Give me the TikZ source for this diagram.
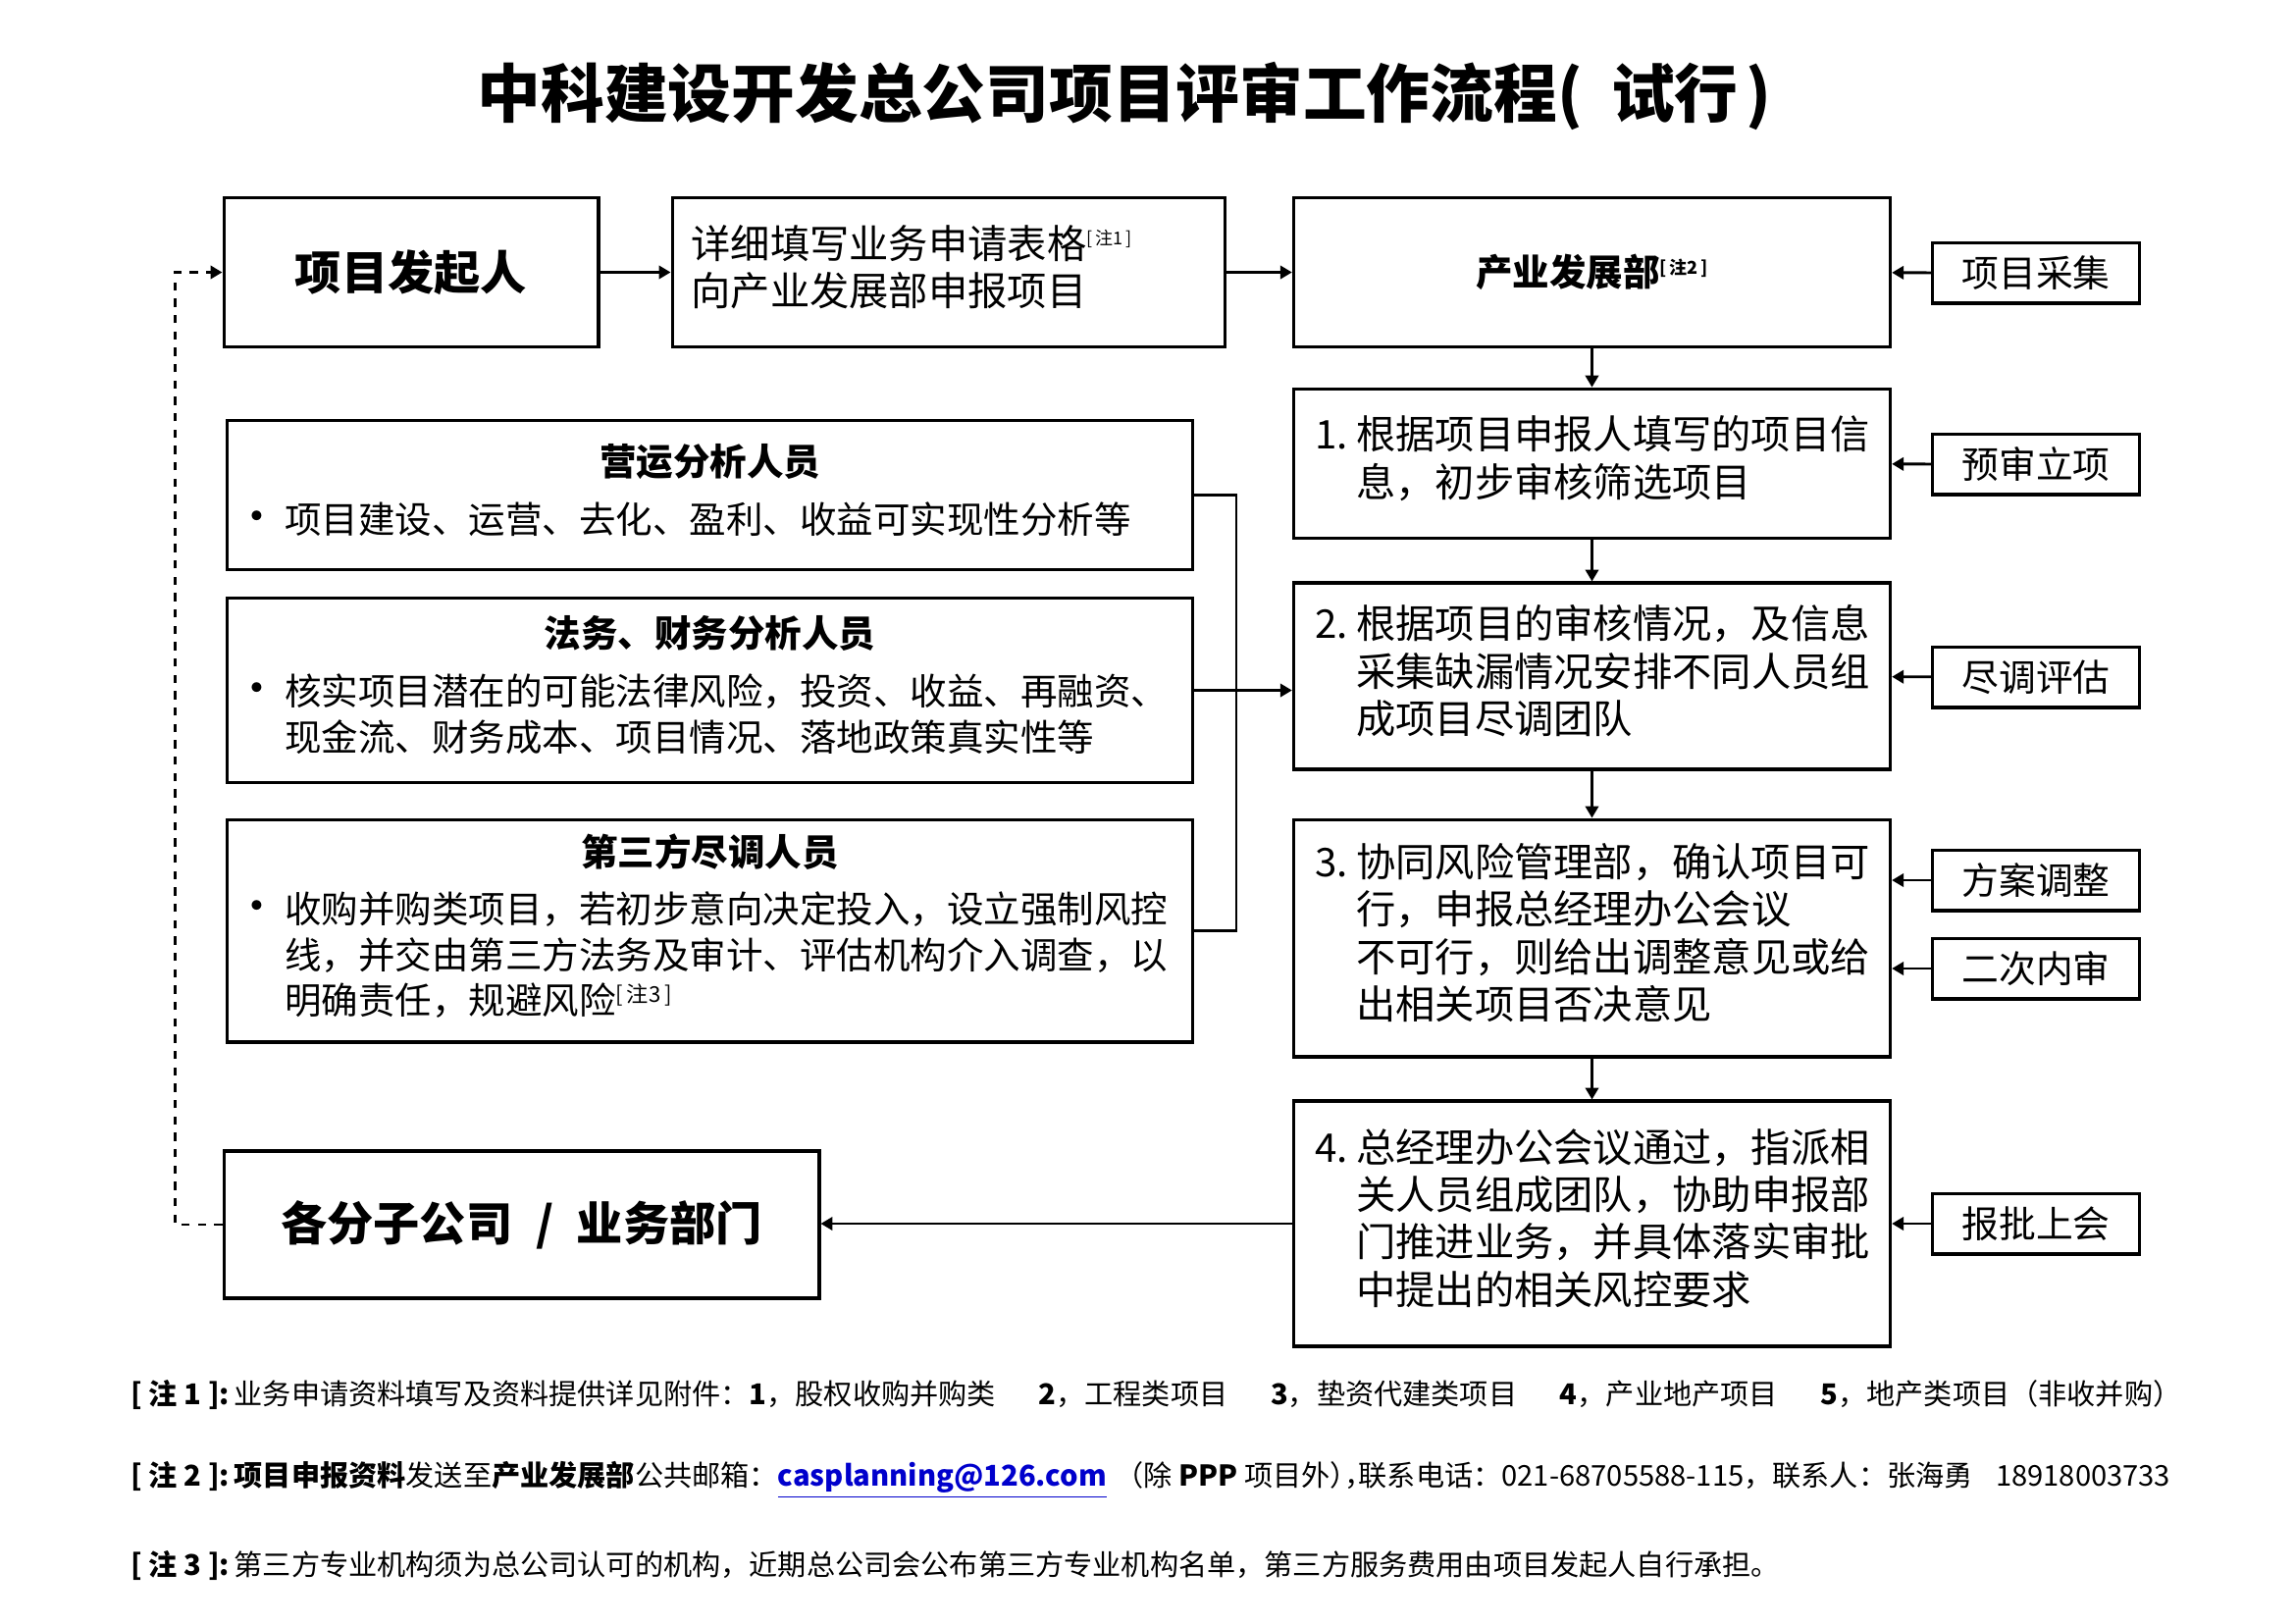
\documentclass[tikz,border=0pt]{standalone}
\usepackage{fontspec}
\newfontfamily\cjk{Noto Sans CJK SC}
\usetikzlibrary{arrows.meta}
\definecolor{emailblue}{RGB}{0,0,204}
\tikzset{>={Triangle[length=4.3pt,width=4.8pt]}}
\newcommand{\noteref}[2][6.5]{\raisebox{0.6ex}{\fontsize{#1}{#1}\selectfont[\,#2\,]}}
\newcommand{\dotmark}{\hspace*{-6.5pt}\scalebox{1.25}{\textbullet}}
\newcommand{\halfp}[1]{{\addfontfeature{RawFeature=+halt}#1}}

\begin{document}
\begin{tikzpicture}[x=0.36pt, y=-0.36pt, line width=1pt,
  box/.style={draw, line width=1.1pt, inner sep=0pt},
  mainbox/.style={box, font=\cjk\bfseries\fontsize{17}{20}\selectfont},
  formbox/.style={box, font=\cjk\fontsize{14.5}{17.3}\selectfont},
  deptbox/.style={box, font=\cjk\bfseries\fontsize{13.5}{16}\selectfont},
  rbox/.style={box, minimum width=219pt, align=center, font=\cjk\fontsize{14.5}{17.3}\selectfont},
  pbox/.style={box, minimum width=354pt, align=center, font=\cjk\fontsize{13.5}{16.7}\selectfont},
  tag/.style={box, minimum width=76pt, minimum height=22.3pt, font=\cjk\fontsize{13.6}{16}\selectfont},
  note/.style={anchor=west, inner sep=0pt, font=\cjk\fontsize{10.5}{12}\selectfont}]

\useasboundingbox (0,0) rectangle (2339,1654);

\node[font=\cjk\bfseries\fontsize{23.3}{26}\selectfont] (title) at (1146,97.5)
  {中科建设开发总公司项目评审工作流程(\hspace{0.45em}试行\hspace{0.12em})};

% top row
\node[mainbox, minimum width=137.5pt, minimum height=55pt] (start) at (419,277.5) {项目发起人};
\node[formbox, minimum width=203pt, minimum height=55pt] (form) at (967,277.5)
  {\begin{tabular}{@{}p{189pt}@{}}详细填写业务申请表格\noteref{注1}\\向产业发展部申报项目\end{tabular}};
\node[deptbox, minimum width=219pt, minimum height=55pt] (dept) at (1622.5,277.5) {产业发展部\noteref{注2}};

% review steps
\node[rbox, minimum height=55pt] (s1) at (1622.5,472.5)
  {\begin{tabular}{@{}p{15pt}@{}p{188pt}@{}}1. & 根据项目申报人填写的项目信\\ & 息，初步审核筛选项目\end{tabular}};
\node[rbox, minimum height=68.4pt] (s2) at (1622.5,689)
  {\begin{tabular}{@{}p{15pt}@{}p{188pt}@{}}2. & 根据项目的审核情况，及信息\\ & 采集缺漏情况安排不同人员组\\ & 成项目尽调团队\end{tabular}};
\node[rbox, minimum height=87.1pt] (s3) at (1622.5,956)
  {\begin{tabular}{@{}p{15pt}@{}p{188pt}@{}}3. & 协同风险管理部，确认项目可\\ & 行，申报总经理办公会议\\ & 不可行，则给出调整意见或给\\ & 出相关项目否决意见\end{tabular}};
\node[rbox, minimum height=90pt] (s4) at (1622.5,1247)
  {\begin{tabular}{@{}p{15pt}@{}p{188pt}@{}}4. & 总经理办公会议通过，指派相\\ & 关人员组成团队，协助申报部\\ & 门推进业务，并具体落实审批\\ & 中提出的相关风控要求\end{tabular}};

% side tags
\node[tag] (collect) at (2075,278) {项目采集};
\node[tag] (prerev) at (2075,473) {预审立项};
\node[tag] (dd) at (2075,690) {尽调评估};
\node[tag] (adjust) at (2075,897) {方案调整};
\node[tag] (second) at (2075,987) {二次内审};
\node[tag] (report) at (2075,1247) {报批上会};

% staff boxes
\node[pbox, minimum height=54.4pt] (ops) at (723.5,504.5)
  {\textbf{营运分析人员}\\[4.5pt]\begin{tabular}[t]{@{}p{12pt}@{}p{324pt}@{}}\dotmark & 项目建设、运营、去化、盈利、收益可实现性分析等\end{tabular}};
\node[pbox, minimum height=68pt] (legal) at (723.5,703.5)
  {\textbf{法务、财务分析人员}\\[4.5pt]\begin{tabular}[t]{@{}p{12pt}@{}p{324pt}@{}}\dotmark & 核实项目潜在的可能法律风险，投资、收益、再融资、\\ & 现金流、财务成本、项目情况、落地政策真实性等\end{tabular}};
\node[pbox, minimum height=81.7pt] (third) at (723.5,948.5)
  {\textbf{第三方尽调人员}\\[4.5pt]\begin{tabular}[t]{@{}p{12pt}@{}p{324pt}@{}}\dotmark & 收购并购类项目，若初步意向决定投入，设立强制风控\\ & 线，并交由第三方法务及审计、评估机构介入调查，以\\ & 明确责任，规避风险\noteref[8]{注3}\end{tabular}};

\node[mainbox, minimum width=218.5pt, minimum height=54pt] (unit) at (531.5,1248) {各分子公司\hspace{0.5em}/\hspace{0.5em}业务部门};

% connectors
\draw[->] (start) -- (form);
\draw[->] (form) -- (dept);
\draw[->] (collect) -- (dept);
\draw[->] (dept) -- (s1);
\draw[->] (prerev) -- (s1);
\draw[->] (s1) -- (s2);
\draw[->] (dd) -- (s2);
\draw[->] (s2) -- (s3);
\draw[->] (adjust) -- (adjust -| s3.east);
\draw[->] (second) -- (second -| s3.east);
\draw[->] (s3) -- (s4);
\draw[->] (report) -- (s4);
\draw[->] (s4.west) -- (s4.west -| unit.east);
\draw[->, dashed] (unit.west) -- ++(-48,0) |- (start.west);

\coordinate (bus) at (1260,703.5);
\draw (ops.east) -| (bus) |- (third.east);
\draw[->] (legal.east) -- (legal.east -| s2.west);

% notes
\node[note] (n1) at (132,1421) {\textbf{[ 注 1 ]:}\,业务申请资料填写及资料提供详见附件：\textbf{1}，股权收购并购类\hspace{1.5em}\textbf{2}，工程类项目\hspace{1.5em}\textbf{3}，垫资代建类项目\hspace{1.5em}\textbf{4}，产业地产项目\hspace{1.5em}\textbf{5}，地产类项目（非收并购）};
\node[note] (n2) at (132,1508) {\textbf{[ 注 2 ]:}\,\textbf{项目申报资料}发送至\textbf{产业发展部}公共邮箱：\textcolor{emailblue}{\textbf{\underline{casplanning@126.com}}}\hspace{0.3em}（除 \textbf{PPP} 项目外\halfp{），}联系电话：021-68705588-115，联系人：张海勇\hspace{0.8em}18918003733};
\node[note] (n3) at (132,1595) {\textbf{[ 注 3 ]:}\,第三方专业机构须为总公司认可的机构，近期总公司会公布第三方专业机构名单，第三方服务费用由项目发起人自行承担。};

\end{tikzpicture}
\end{document}
